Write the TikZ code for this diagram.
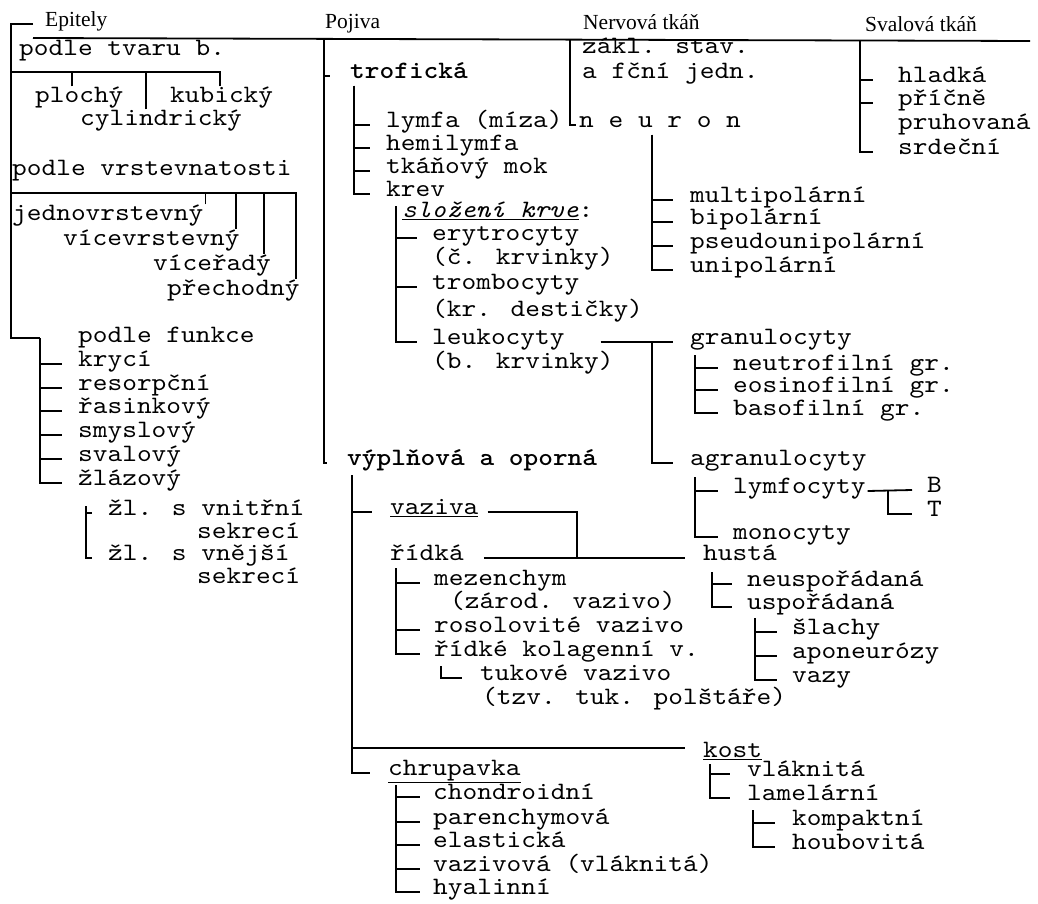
\documentclass[tikz,border=0pt]{standalone}
\usepackage{fontspec}
\usepackage{tikz}
\newfontfamily\headfont{Liberation Serif}
\newfontfamily\monofont{lmmono10-regular.otf}[BoldFont=lmmonolt10-bold.otf, ItalicFont=lmmono10-italic.otf, FakeStretch=1.12]

\begin{document}
\begin{tikzpicture}[x=1pt, y=-1pt,
  txt/.style={font=\monofont\fontsize{25}{27}\selectfont, inner sep=0pt, anchor=mid west},
  btxt/.style={txt, font=\monofont\bfseries\fontsize{25}{27}\selectfont},
  head/.style={font=\headfont\fontsize{21.5}{23}\selectfont, inner sep=0pt, anchor=base west},
  br/.style={line width=1.8pt}]
  \useasboundingbox (0,0) rectangle (1038,904);

  % headings
  \node[head] (hEpi) at (45,27) {Epitely};
  \node[head] (hPoj) at (325,29) {Pojiva};
  \node[head] (hNerv) at (583,30) {Nervová tkáň};
  \node[head] (hSval) at (865,32) {Svalová tkáň};
  \coordinate (topL) at (33,38);
  \coordinate (topR) at (1030,41);
  \draw[br] (topL) -- (topR);

  % Epitely
  \node[txt] (tvar) at (19,53) {podle tvaru b.};
  \node[txt] (ploch) at (35,100) {plochý};
  \node[txt] (kub) at (170,100) {kubický};
  \node[txt] (cyl) at (80,123) {cylindrický};
  \node[txt] (vrst) at (12,173) {podle vrstevnatosti};
  \node[txt] (jedn) at (12,218) {jednovrstevný};
  \node[txt] (vicev) at (63,243) {vícevrstevný};
  \node[txt] (vicer) at (153,268) {víceřadý};
  \node[txt] (prech) at (167,293) {přechodný};
  \node[txt] (funk) at (78,340) {podle funkce};
  \node[txt] (kryc) at (78,364) {krycí};
  \node[txt] (resor) at (78,388) {resorpční};
  \node[txt] (rasin) at (78,411) {řasinkový};
  \node[txt] (smysl) at (78,435) {smyslový};
  \node[txt] (sval) at (78,459) {svalový};
  \node[txt] (zlaz) at (78,483) {žlázový};
  \node[txt] (zlIn) at (108,513) {žl. s vnitřní};
  \node[txt] (sekIn) at (197,536) {sekrecí};
  \node[txt] (zlEx) at (108,558) {žl. s vnější};
  \node[txt] (sekEx) at (197,581) {sekrecí};

  \draw[br] (topL |- 0,24) -- (11,24) -- (11,338) -- (40,338);
  \foreach \n/\dx in {ploch/-7, cyl/-15, kub/-2}
    \draw[br] ([xshift=\dx pt]\n.north) |- (11,72);
  \foreach \n/\dx in {jedn/2, vicev/-4, vicer/-7, prech/-4}
    \draw[br] ([xshift=\dx pt]\n.north east) |- (11,193);
  \foreach \n in {kryc,resor,rasin,smysl,sval,zlaz}
    \draw[br] (40,338) |- ([xshift=-16pt]\n.mid west);
  \foreach \n in {zlIn,zlEx}
    \draw[br] (86,506) |- ([xshift=-16pt]\n.mid west);

  % Pojiva
  \node[btxt] (trof) at (350,76) {trofická};
  \node[txt] (lymfa) at (386,125) {lymfa (míza)};
  \node[txt] (hemi) at (386,148) {hemilymfa};
  \node[txt] (mok) at (386,171) {tkáňový mok};
  \node[txt] (krev) at (386,194) {krev};
  \node[txt] (sloz) at (402,215) {\underline{\textit{složení krve}}:};
  \node[txt] (eryt) at (432,238) {erytrocyty};
  \node[txt] (eryt2) at (432,262) {(č. krvinky)};
  \node[txt] (tromb) at (432,287) {trombocyty};
  \node[txt] (tromb2) at (432,314) {(kr. destičky)};
  \node[txt] (leuko) at (432,342) {leukocyty};
  \node[txt] (leuko2) at (432,366) {(b. krvinky)};
  \node[txt] (granu) at (690,342) {granulocyty};
  \node[txt] (neut) at (733,368) {neutrofilní gr.};
  \node[txt] (eos) at (733,390) {eosinofilní gr.};
  \node[txt] (baso) at (733,413) {basofilní gr.};
  \node[txt] (agranu) at (690,463) {agranulocyty};
  \node[txt] (lymfo) at (733,491) {lymfocyty};
  \node[txt] (bcell) at (927,490) {B};
  \node[txt] (tcell) at (927,514) {T};
  \node[txt] (mono) at (733,537) {monocyty};
  \node[btxt] (vypl) at (347,463) {výplňová a oporná};

  \foreach \n in {trof,vypl}
    \draw[br] (324,40) |- ([xshift=-20pt]\n.mid west);
  \foreach \n in {lymfa,hemi,mok,krev}
    \draw[br] (354,86) |- ([xshift=-16pt]\n.mid west);
  \foreach \n in {eryt,tromb,leuko}
    \draw[br] (396,206) |- ([xshift=-15pt]\n.mid west);
  \draw[br] ([xshift=36pt]leuko.mid east) -- ([xshift=-17pt]granu.mid west);
  \draw[br] (652,342) |- ([xshift=-17pt]agranu.mid west);
  \foreach \n in {neut,eos,baso}
    \draw[br] (695,355) |- ([xshift=-15pt]\n.mid west);
  \foreach \n in {lymfo,mono}
    \draw[br] (695,477) |- ([xshift=-15pt]\n.mid west);
  \draw[br] ([xshift=2pt]lymfo.mid east) -- ([xshift=-15pt]bcell.mid west);
  \draw[br] (888,491) |- ([xshift=-15pt]tcell.mid west);

  % vyplnova a oporna
  \node[txt] (vaziva) at (390,512) {\underline{vaziva}};
  \node[txt] (ridka) at (390,558) {řídká};
  \node[txt] (husta) at (703,558) {hustá};
  \node[txt] (mezen) at (434,583) {mezenchym};
  \node[txt] (mezen2) at (450,606) {(zárod. vazivo)};
  \node[txt] (rosol) at (434,630) {rosolovité vazivo};
  \node[txt] (ridke) at (434,654) {řídké kolagenní v.};
  \node[txt] (tuk) at (480,678) {tukové vazivo};
  \node[txt] (tuk2) at (482,702) {(tzv. tuk. polštáře)};
  \node[txt] (neusp) at (747,584) {neuspořádaná};
  \node[txt] (usp) at (747,607) {uspořádaná};
  \node[txt] (slach) at (792,632) {šlachy};
  \node[txt] (apon) at (792,656) {aponeurózy};
  \node[txt] (vazy) at (792,680) {vazy};
  \node[txt] (kost) at (703,755) {\underline{kost}};
  \node[txt] (vlak) at (747,774) {vláknitá};
  \node[txt] (lamel) at (747,798) {lamelární};
  \node[txt] (kompakt) at (792,823) {kompaktní};
  \node[txt] (houb) at (792,847) {houbovitá};
  \node[txt] (chrup) at (388,773) {\underline{chrupavka}};
  \node[txt] (chond) at (433,797) {chondroidní};
  \node[txt] (paren) at (433,822) {parenchymová};
  \node[txt] (elast) at (433,845) {elastická};
  \node[txt] (vazivova) at (433,869) {vazivová (vláknitá)};
  \node[txt] (hyal) at (433,892) {hyalinní};

  \coordinate (join) at (577,558);
  \foreach \n in {vaziva,chrup}
    \draw[br] (352,475) |- ([xshift=-18pt]\n.mid west);
  \draw[br] (352,475) |- ([xshift=-18pt,yshift=7pt]kost.mid west);
  \draw[br] ([xshift=9pt]vaziva.mid east) -| (join);
  \draw[br] ([xshift=20pt]ridka.mid east) -- ([xshift=-18pt]husta.mid west);
  \foreach \n in {mezen,rosol,ridke}
    \draw[br] (396,568) |- ([xshift=-14pt]\n.mid west);
  \draw[br] (441,666) |- ([xshift=-18pt]tuk.mid west);
  \foreach \n in {neusp,usp}
    \draw[br] (712,572) |- ([xshift=-15pt]\n.mid west);
  \foreach \n in {slach,apon,vazy}
    \draw[br] (755,618) |- ([xshift=-15pt]\n.mid west);
  \foreach \n in {vlak,lamel}
    \draw[br] (710,764) |- ([xshift=-17pt]\n.mid west);
  \foreach \n in {kompakt,houb}
    \draw[br] (753,810) |- ([xshift=-17pt]\n.mid west);
  \foreach \n in {chond,paren,elast,vazivova,hyal}
    \draw[br] (396,785) |- ([xshift=-13pt]\n.mid west);

  % Nervova tkan
  \node[txt] (zakl) at (582,51) {zákl. stav.};
  \node[txt] (fcni) at (582,76) {a fční jedn.};
  \node[txt] (neuron) at (579,125) {n e u r o n};
  \node[txt] (multi) at (690,200) {multipolární};
  \node[txt] (bip) at (690,222) {bipolární};
  \node[txt] (pseudo) at (690,246) {pseudounipolární};
  \node[txt] (unip) at (690,270) {unipolární};
  \draw[br] (570,40) |- ([xshift=-3pt]neuron.mid west);
  \foreach \n in {multi,bip,pseudo,unip}
    \draw[br] (652,135) |- ([xshift=-17pt]\n.mid west);

  % Svalova tkan
  \node[txt] (hlad) at (898,80) {hladká};
  \node[txt] (pric) at (898,103) {příčně};
  \node[txt] (pruh) at (898,127) {pruhovaná};
  \node[txt] (srdc) at (898,152) {srdeční};
  \foreach \n in {hlad,pric,srdc}
    \draw[br] (860,41) |- ([xshift=-25pt]\n.mid west);
\end{tikzpicture}
\end{document}
